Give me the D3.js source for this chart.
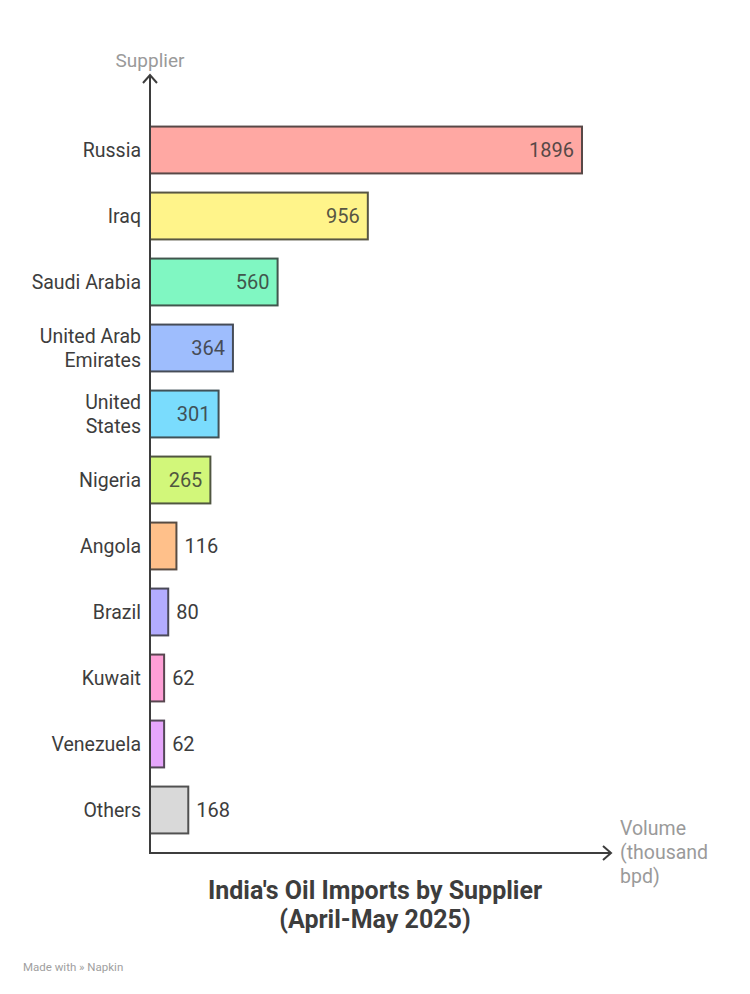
<!DOCTYPE html>
<html><head><meta charset="utf-8">
<script src="https://cdn.jsdelivr.net/npm/d3@7"></script>
<style>body{margin:0;background:#fff}svg{display:block;font-family:Roboto,"Noto Sans",sans-serif}</style>
</head><body>
<svg id="c" width="750" height="994"></svg>
<script>
const categories = ["Russia","Iraq","Saudi Arabia","United Arab Emirates","United States","Nigeria","Angola","Brazil","Kuwait","Venezuela","Others"];
const values = [1896,956,560,364,301,265,116,80,62,62,168];
const categoryLines = [["Russia"],["Iraq"],["Saudi Arabia"],["United Arab","Emirates"],["United","States"],["Nigeria"],["Angola"],["Brazil"],["Kuwait"],["Venezuela"],["Others"]];
const colors = ["#ffa8a3","#fff48a","#80f7c2","#9ebdfd","#7adcfd","#d2f77a","#ffc08a","#b3acff","#ff9fd6","#e6a6fc","#d9d9d9"];
const title = ["India's Oil Imports by Supplier","(April-May 2025)"];
const yTitle = "Supplier";
const xTitle = ["Volume","(thousand","bpd)"];

const svg = d3.select("#c");
const x0 = 150, yTop = 75, yBottom = 853, xRight = 611;
const x = d3.scaleLinear().domain([0,1896]).range([x0,582]);
const y = d3.scaleBand().domain(categories).range([117,843]).paddingInner(0.29).paddingOuter(0.145);

const dark = c => d3.interpolateRgb(c,"#333")(0.82);

// bars
const g = svg.append("g");
g.selectAll("rect").data(categories).join("rect")
  .attr("x", x0).attr("y", d=>y(d))
  .attr("width", (d,i)=>x(values[i])-x0).attr("height", y.bandwidth())
  .attr("fill",(d,i)=>colors[i]).attr("stroke",(d,i)=>dark(colors[i])).attr("stroke-width",2);

// value labels
categories.forEach((c,i)=>{
  const w = x(values[i])-x0;
  const t = g.append("text").text(values[i]).attr("font-size",20).attr("font-weight",400)
    .attr("y", y(c)+y.bandwidth()/2).attr("dy","0.35em");
  const tw = t.node().getComputedTextLength();
  if (w > tw + 20) {
    t.attr("x", x(values[i])-8).attr("text-anchor","end").attr("fill",dark(colors[i]));
  } else {
    t.attr("x", x(values[i])+8).attr("fill","#3d3d3d");
  }
});

// category labels
categories.forEach((c,i)=>{
  const lines = categoryLines[i];
  const cy = y(c)+y.bandwidth()/2;
  const t = svg.append("text").attr("text-anchor","end").attr("font-size",19.5).attr("fill","#3d3d3d");
  lines.forEach((l,k)=>{
    t.append("tspan").attr("x",141).attr("y", cy + (k-(lines.length-1)/2)*24).attr("dy","0.35em").text(l);
  });
});

// axes
const axc = "#3d3d3d";
svg.append("line").attr("x1",x0).attr("x2",x0).attr("y1",yTop).attr("y2",yBottom).attr("stroke",axc).attr("stroke-width",2);
svg.append("line").attr("x1",x0-1).attr("x2",xRight).attr("y1",yBottom).attr("y2",yBottom).attr("stroke",axc).attr("stroke-width",2);
svg.append("path").attr("d",`M${x0-7},${yTop+8}L${x0},${yTop}L${x0+7},${yTop+8}`).attr("fill","none").attr("stroke",axc).attr("stroke-width",2);
svg.append("path").attr("d",`M${xRight-8},${yBottom-7}L${xRight},${yBottom}L${xRight-8},${yBottom+7}`).attr("fill","none").attr("stroke",axc).attr("stroke-width",2);

// axis titles
svg.append("text").attr("x",150).attr("y",60).attr("dy","0.35em").attr("text-anchor","middle").attr("font-size",19).attr("fill","#9a9a9a").text(yTitle);
const xt = svg.append("text").attr("font-size",19.5).attr("fill","#9a9a9a");
xTitle.forEach((l,k)=>xt.append("tspan").attr("x",620).attr("y",828+k*24).attr("dy","0.35em").text(l));

// title
const tt = svg.append("text").attr("text-anchor","middle").attr("font-size",25).attr("font-weight",700).attr("fill","#3d3d3d");
title.forEach((l,k)=>tt.append("tspan").attr("x",375).attr("y",890+k*29).attr("dy","0.35em").text(l));

// footer
svg.append("text").attr("x",23).attr("y",967).attr("dy","0.35em").attr("font-size",11.5).attr("fill","#a0a0a0").text("Made with \u00BB Napkin");
</script>
</body></html>
